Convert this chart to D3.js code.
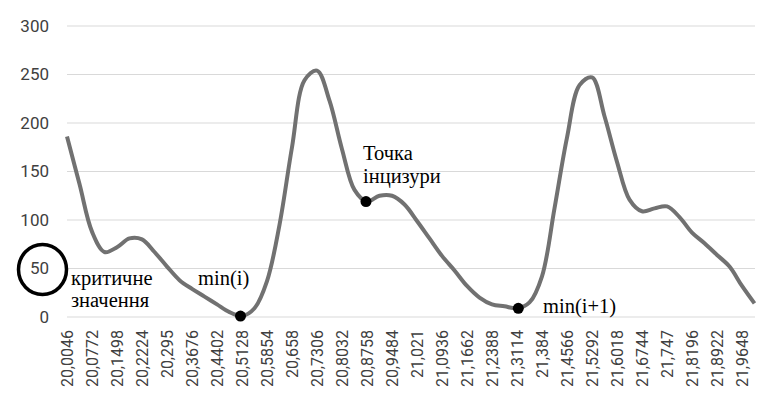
<!DOCTYPE html>
<html>
<head>
<meta charset="utf-8">
<script src="https://cdn.jsdelivr.net/npm/d3@7"></script>
<style>
  body { margin: 0; background: #fff; }
  svg { display: block; }
</style>
</head>
<body>
<svg class="chart" width="766" height="403"></svg>
<script>
// x positions of the samples (argument values)
var xs = [20.0046, 20.0409, 20.0772, 20.1135, 20.1498, 20.1861, 20.2224, 20.2587, 20.295, 20.3313,
          20.3676, 20.4039, 20.4402, 20.4765, 20.5128, 20.5491, 20.5854, 20.6217, 20.658, 20.6943,
          20.7306, 20.7669, 20.8032, 20.8395, 20.8758, 20.9121, 20.9484, 20.9847, 21.021, 21.0573,
          21.0936, 21.1299, 21.1662, 21.2025, 21.2388, 21.2751, 21.3114, 21.3477, 21.384, 21.4203,
          21.4566, 21.4929, 21.5292, 21.5655, 21.6018, 21.6381, 21.6744, 21.7107, 21.747, 21.7833,
          21.8196, 21.8559, 21.8922, 21.9285, 21.9648, 22.0011];
var ys = [186, 137, 88, 67, 72, 81, 80, 67, 52, 38,
          29, 21, 13, 5, 1, 9, 37, 95, 175, 244,
          254, 223, 173, 131, 119, 125, 125, 116, 99, 81,
          63, 48, 32, 20, 13, 11, 9, 15, 42, 112,
          185, 239, 247, 207, 160, 121, 109, 112, 114, 103,
          87, 76, 64, 52, 32, 14];

// tick labels on the x axis
var xTicks = [20.0046, 20.0772, 20.1498, 20.2224, 20.295, 20.3676, 20.4402, 20.5128, 20.5854, 20.658,
              20.7306, 20.8032, 20.8758, 20.9484, 21.021, 21.0936, 21.1662, 21.2388, 21.3114, 21.384,
              21.4566, 21.5292, 21.6018, 21.6744, 21.747, 21.8196, 21.8922, 21.9648];
var yTicks = [0, 50, 100, 150, 200, 250, 300];

// marked points
var dotX = [20.5084, 20.8729, 21.3152];
var dotY = [1, 119, 9];

var svg = d3.select(".chart");
var plotLeft = 67, plotRight = 755, plotTop = 26, plotBottom = 317;

var x = d3.scaleLinear().domain([20.0046, 22.0011]).range([plotLeft, 754.5]);
var y = d3.scaleLinear().domain([0, 300]).range([plotBottom, plotTop]);

// grid
svg.append("g").selectAll("line").data(yTicks).enter().append("line")
  .attr("x1", plotLeft).attr("x2", plotRight)
  .attr("y1", function(d) { return y(d); })
  .attr("y2", function(d) { return y(d); })
  .style("stroke", "#d9d9d9").style("stroke-width", 1.2);

// y labels
svg.append("g").selectAll("text").data(yTicks).enter().append("text")
  .attr("x", 49)
  .attr("y", function(d) { return y(d); })
  .attr("dy", "0.35em")
  .attr("text-anchor", "end")
  .style("font-family", "Roboto, sans-serif")
  .style("font-size", "17px")
  .style("fill", "#404040")
  .text(function(d) { return d; });

// x labels, rotated
svg.append("g").selectAll("text").data(xTicks).enter().append("text")
  .attr("transform", function(d) { return "translate(" + (x(d) + 5.5) + ",330) rotate(-90)"; })
  .attr("text-anchor", "end")
  .style("font-family", "Roboto, sans-serif")
  .style("font-size", "16px")
  .style("fill", "#404040")
  .text(function(d) { return String(d).replace(".", ","); });

// curve
var pts = xs.map(function(d, i) { return [d, ys[i]]; });
var line = d3.line()
  .x(function(d) { return x(d[0]); })
  .y(function(d) { return y(d[1]); })
  .curve(d3.curveCatmullRom.alpha(0.5));
svg.append("path")
  .attr("d", line(pts))
  .style("fill", "none")
  .style("stroke", "#717171")
  .style("stroke-width", 4)
  .style("stroke-linejoin", "round");

// dots
svg.append("g").selectAll("circle").data(dotX).enter().append("circle")
  .attr("cx", function(d) { return x(d); })
  .attr("cy", function(d, i) { return y(dotY[i]); })
  .attr("r", 5.5)
  .style("fill", "#000");

// circle round the 50 label
svg.append("ellipse")
  .attr("cx", 42.5).attr("cy", y(50) + 1)
  .attr("rx", 24).attr("ry", 25)
  .style("fill", "none").style("stroke", "#000").style("stroke-width", 3.5);

// annotations
var notes = [
  {t: "критичне", x: 71, y: 285},
  {t: "значення", x: 71, y: 307},
  {t: "min(i)", x: 198, y: 285},
  {t: "Точка", x: 363, y: 160},
  {t: "інцизури", x: 363, y: 183},
  {t: "min(i+1)", x: 543, y: 313}
];
svg.append("g").selectAll("text").data(notes).enter().append("text")
  .attr("x", function(d) { return d.x; })
  .attr("y", function(d) { return d.y; })
  .style("font-family", "'Liberation Serif', serif")
  .style("font-size", "20.5px")
  .style("fill", "#000")
  .text(function(d) { return d.t; });
</script>
</body>
</html>
